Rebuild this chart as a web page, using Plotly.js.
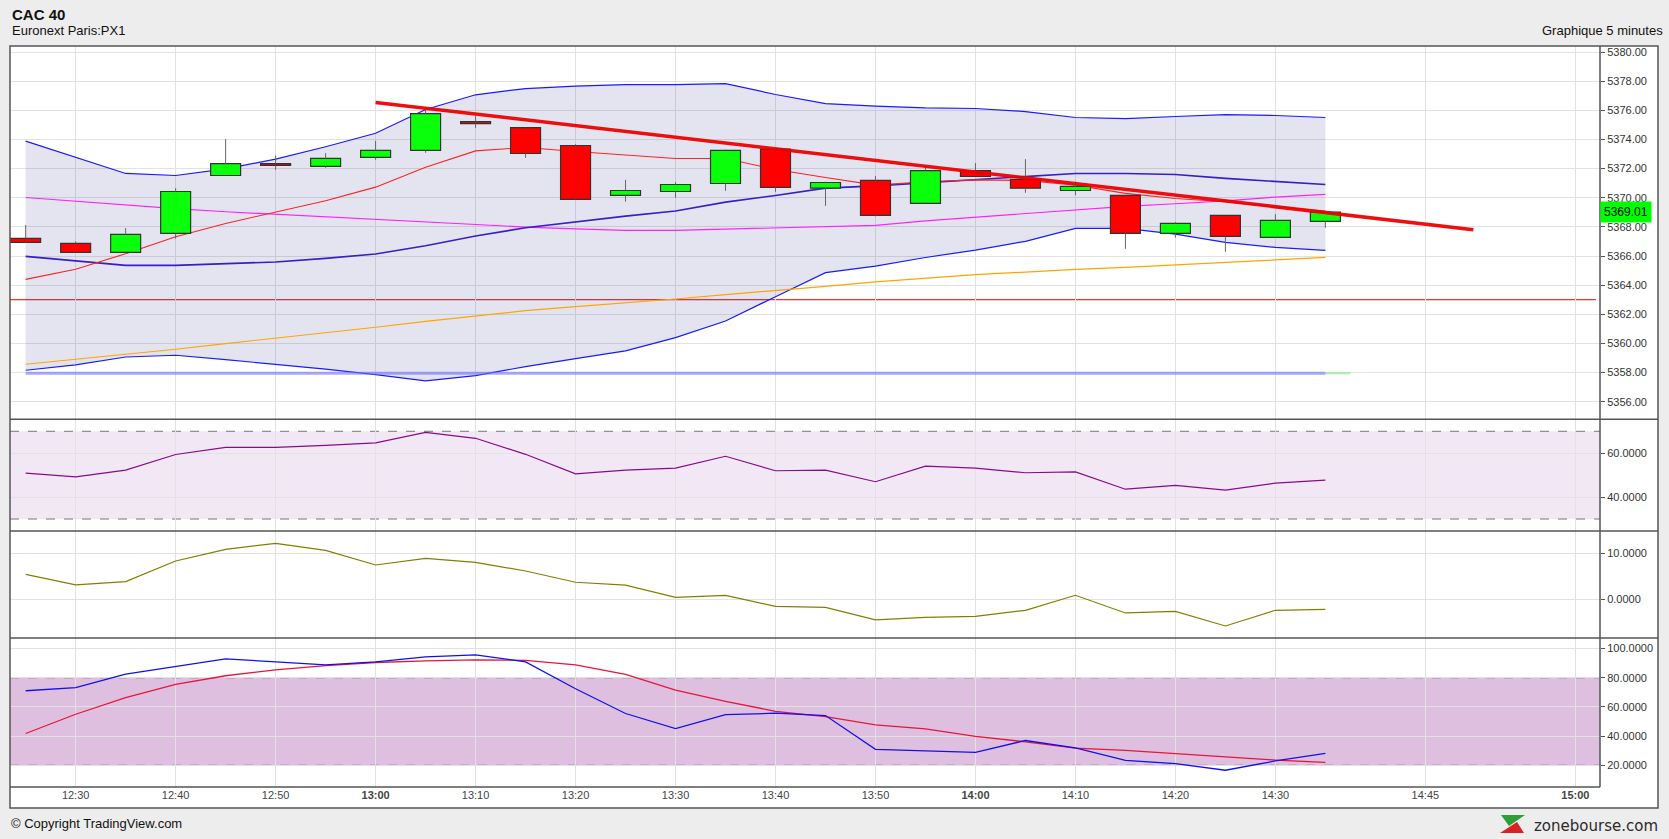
<!DOCTYPE html>
<html>
<head>
<meta charset="utf-8">
<script src="https://cdn.plot.ly/plotly-3.0.1.min.js"></script>
<style>
  html, body { margin: 0; padding: 0; background: #ededed; }
  #chart { width: 1669px; height: 839px; }
</style>
</head>
<body>
<div id="chart"></div>
<script>
// ---------------- DATA ----------------
const times = ['12:25','12:30','12:35','12:40','12:45','12:50','12:55','13:00','13:05','13:10',
  '13:15','13:20','13:25','13:30','13:35','13:40','13:45','13:50','13:55','14:00',
  '14:05','14:10','14:15','14:20','14:25','14:30','14:35'];

const open  = [5367.21,5366.87,5366.25,5367.55,5371.53,5372.35,5372.15,5372.77,5373.25,5375.23,
  5374.82,5373.59,5370.16,5370.43,5370.98,5373.34,5370.66,5371.19,5369.61,5371.87,
  5371.26,5370.50,5370.16,5367.55,5368.79,5367.28,5368.38];
const high  = [5368.13,5367.00,5367.92,5370.66,5374.02,5372.90,5373.06,5373.91,5376.06,5375.60,
  5374.85,5373.68,5371.23,5371.07,5373.30,5373.40,5371.10,5371.49,5372.19,5372.38,
  5372.65,5371.10,5370.20,5368.33,5368.80,5368.88,5369.05];
const low   = [5366.90,5366.22,5366.22,5367.19,5371.50,5371.92,5372.06,5372.61,5373.09,5374.80,
  5372.74,5369.87,5369.73,5370.00,5370.48,5370.41,5369.45,5368.72,5369.60,5371.45,
  5370.34,5370.18,5366.50,5367.26,5366.30,5367.25,5367.94];
const close = [5366.94,5366.25,5367.49,5370.43,5372.35,5372.22,5372.70,5373.25,5375.78,5375.09,
  5373.04,5369.89,5370.50,5370.91,5373.25,5370.71,5371.05,5368.79,5371.87,5371.46,
  5370.66,5370.78,5367.55,5368.24,5367.35,5368.45,5369.01];

const bbUpper = [5373.89,5372.77,5371.67,5371.53,5371.99,5372.65,5373.50,5374.43,5376.06,5377.07,
  5377.50,5377.66,5377.77,5377.77,5377.84,5377.09,5376.47,5376.29,5376.17,5376.13,
  5375.92,5375.51,5375.44,5375.58,5375.71,5375.65,5375.51];
const bbLower = [5358.16,5358.53,5359.07,5359.19,5358.89,5358.57,5358.23,5357.86,5357.43,5357.79,
  5358.41,5358.96,5359.49,5360.40,5361.54,5363.21,5364.86,5365.31,5365.90,5366.41,
  5367.01,5367.90,5367.90,5367.51,5366.94,5366.59,5366.39];
const bbMiddle = [5365.98,5365.66,5365.36,5365.36,5365.45,5365.59,5365.84,5366.14,5366.71,5367.38,
  5367.94,5368.35,5368.74,5369.09,5369.70,5370.16,5370.66,5370.82,5371.03,5371.28,
  5371.49,5371.67,5371.67,5371.60,5371.33,5371.12,5370.91];
const maShort = [5364.40,5365.09,5366.16,5367.33,5368.24,5369.00,5369.79,5370.73,5372.10,5373.22,
  5373.45,5373.18,5372.93,5372.70,5372.70,5371.94,5371.39,5370.87,5371.10,5371.23,
  5371.19,5370.87,5370.30,5369.95,5369.73,5369.38,5369.09];
const maMedium = [5370.02,5369.75,5369.47,5369.25,5369.04,5368.86,5368.70,5368.51,5368.35,5368.17,
  5367.99,5367.87,5367.76,5367.76,5367.85,5367.90,5368.01,5368.10,5368.42,5368.67,
  5368.95,5369.20,5369.41,5369.59,5369.79,5370.05,5370.23];
const maLong = [5358.57,5358.91,5359.26,5359.60,5359.99,5360.35,5360.74,5361.11,5361.52,5361.89,
  5362.25,5362.53,5362.78,5363.05,5363.35,5363.62,5363.92,5364.22,5364.49,5364.72,
  5364.90,5365.09,5365.22,5365.38,5365.54,5365.70,5365.91];

const rsi = [50.9,49.2,52.3,59.4,62.7,62.7,63.6,64.7,69.5,66.8,
  59.5,50.6,52.3,53.2,58.6,52.0,52.3,47.0,54.1,53.2,
  51.1,51.5,43.6,45.3,43.2,46.4,47.7];
const macd = [5.43,3.12,3.84,8.33,10.87,12.17,10.65,7.46,8.91,8.04,
  6.16,3.70,3.08,0.43,0.87,-1.52,-1.74,-4.49,-3.91,-3.70,
  -2.39,0.87,-2.97,-2.61,-5.80,-2.39,-2.17];
const stochK = [71.1,73.2,82.5,87.7,93.0,90.9,88.9,90.9,94.3,95.7,
  90.9,72.5,55.5,45.2,54.8,55.7,54.1,30.9,30.0,28.9,
  37.0,32.0,23.4,21.1,16.6,23.0,28.2];
const stochD = [41.8,55.0,66.4,75.5,81.4,85.5,88.4,90.5,91.6,92.3,
  92.0,88.9,82.3,71.5,63.9,57.0,53.4,47.7,45.0,39.8,
  36.1,31.8,30.2,28.0,25.9,23.6,22.0];

const trendTimes = ['13:00', '14:49:48'];
const trendValues = [5376.54, 5367.81];
const hLevel = 5363.0;
const flatTimes = ['12:25', '14:35'];
const flatExtTimes = ['14:35', '14:37:30'];
const flatLevel = 5357.95;
const lastPrice = 5369.01;

const xTickTimes = ['12:30','12:40','12:50','13:00','13:10','13:20','13:30','13:40','13:50','14:00','14:10','14:20','14:30','14:45','15:00'];
const xTickLabels = ['12:30','12:40','12:50','<b>13:00</b>','13:10','13:20','13:30','13:40','13:50','<b>14:00</b>','14:10','14:20','14:30','14:45','<b>15:00</b>'];
const mainTicks = [5356,5358,5360,5362,5364,5366,5368,5370,5372,5374,5376,5378,5380];
const rsiTicks = [40, 60];
const macdTicks = [0, 10];
const stochTicks = [20, 40, 60, 80, 100];
const rsiBand = [30, 70];
const stochBand = [20, 80];

// ---------------- BUILD ----------------
const day = '2024-01-15 ';
const X = times.map(t => day + t);
const D = t => day + t;

const wx = [], wy = [];
const bodyBase = [], bodyH = [], bodyCol = [];
for (let i = 0; i < X.length; i++) {
  const top = Math.max(open[i], close[i]);
  const bot = Math.min(open[i], close[i]);
  if (high[i] > top) { wx.push(X[i], X[i], null); wy.push(high[i], top, null); }
  if (low[i] < bot) { wx.push(X[i], X[i], null); wy.push(bot, low[i], null); }
  bodyBase.push(bot);
  bodyH.push(Math.max(top - bot, 0.03));
  bodyCol.push(close[i] >= open[i] ? '#0aff0a' : '#ff0000');
}

const FONT = 'Liberation Sans, Arial, sans-serif';
const mainRange = [5354.79, 5380.42];

const line = (y, color, width, yaxis) => ({
  type: 'scatter', mode: 'lines', x: X, y: y, xaxis: 'x', yaxis: yaxis || 'y',
  line: { color: color, width: width || 1 }, hoverinfo: 'skip'
});

const traces = [
  line(bbLower, '#1a1aff', 1.2),
  Object.assign(line(bbUpper, '#1a1aff', 1.2), { fill: 'tonexty', fillcolor: 'rgba(30,30,140,0.12)' }),
  line(maLong, '#ffa500', 1.2),
  line(maMedium, '#ff22ff', 1.2),
  line(bbMiddle, '#3a1cc8', 1.6),
  line(maShort, '#ff2222', 1.1),
  { type: 'scatter', mode: 'lines', x: flatTimes.map(D), y: flatTimes.map(() => flatLevel),
    line: { color: 'rgba(110,110,255,0.6)', width: 3 }, hoverinfo: 'skip' },
  { type: 'scatter', mode: 'lines', x: flatExtTimes.map(D), y: flatExtTimes.map(() => flatLevel),
    line: { color: 'rgba(140,230,140,0.7)', width: 2 }, hoverinfo: 'skip' },
  line(rsi, '#8a0a8a', 1.2, 'y2'),
  line(macd, '#808000', 1.2, 'y3'),
  line(stochD, '#e8143c', 1.3, 'y4'),
  line(stochK, '#1010ee', 1.3, 'y4'),
  // candles on overlay axis (drawn above indicator lines)
  { type: 'scatter', mode: 'lines', x: wx, y: wy, xaxis: 'x', yaxis: 'y5',
    line: { color: '#666666', width: 1 }, hoverinfo: 'skip', connectgaps: false },
  { type: 'bar', x: X, y: bodyH, base: bodyBase, width: 180000, xaxis: 'x', yaxis: 'y5',
    marker: { color: bodyCol, line: { color: '#333333', width: 1.2 } }, hoverinfo: 'skip' },
  { type: 'scatter', mode: 'lines', x: trendTimes.map(D), y: trendValues, xaxis: 'x', yaxis: 'y5',
    line: { color: 'rgba(238,0,0,0.95)', width: 3.5 }, hoverinfo: 'skip' }
];

// pixel -> paper helpers (plot area: x 10..1600, y 46..787)
const px = X0 => (X0 - 10) / 1590;
const py = Y0 => (787 - Y0) / 741;

const yCommon = {
  side: 'right', anchor: 'x', showgrid: true, gridcolor: '#e2e2e2', gridwidth: 1,
  zeroline: false, ticks: 'outside', ticklen: 4, tickcolor: '#555', tickwidth: 1,
  tickfont: { family: FONT, size: 11, color: '#333' }, showline: false, fixedrange: true
};

const shapes = [
  { type: 'rect', xref: 'paper', yref: 'paper', x0: 0, x1: px(1658), y0: py(808), y1: 1,
    fillcolor: '#ffffff', line: { width: 0 }, layer: 'below' },
  { type: 'rect', xref: 'paper', yref: 'y2', x0: 0, x1: 1, y0: rsiBand[0], y1: rsiBand[1],
    fillcolor: 'rgba(150,60,170,0.12)', line: { width: 0 }, layer: 'between' },
  { type: 'rect', xref: 'paper', yref: 'y4', x0: 0, x1: 1, y0: stochBand[0], y1: stochBand[1],
    fillcolor: 'rgba(181,107,181,0.43)', line: { width: 0 }, layer: 'between' },
  { type: 'line', xref: 'paper', yref: 'y2', x0: 0, x1: 1, y0: rsiBand[1], y1: rsiBand[1],
    line: { color: '#777', width: 1, dash: 'dash' }, layer: 'between' },
  { type: 'line', xref: 'paper', yref: 'y2', x0: 0, x1: 1, y0: rsiBand[0], y1: rsiBand[0],
    line: { color: '#777', width: 1, dash: 'dash' }, layer: 'between' },
  { type: 'line', xref: 'paper', yref: 'y4', x0: 0, x1: 1, y0: stochBand[1], y1: stochBand[1],
    line: { color: '#777', width: 1, dash: 'dash' }, layer: 'between' },
  { type: 'line', xref: 'paper', yref: 'y4', x0: 0, x1: 1, y0: stochBand[0], y1: stochBand[0],
    line: { color: '#777', width: 1, dash: 'dash' }, layer: 'between' },
  { type: 'line', xref: 'paper', yref: 'y', x0: 0, x1: px(1596), y0: hLevel, y1: hLevel,
    line: { color: '#e00000', width: 1 }, layer: 'between' },
  // borders
  { type: 'rect', xref: 'paper', yref: 'paper', x0: 0, x1: px(1658), y0: py(808), y1: 1,
    line: { color: '#555', width: 1.5 }, fillcolor: 'rgba(0,0,0,0)', layer: 'above' },
  { type: 'line', xref: 'paper', yref: 'paper', x0: 0, x1: px(1658), y0: py(419.3), y1: py(419.3),
    line: { color: '#555', width: 1.5 }, layer: 'above' },
  { type: 'line', xref: 'paper', yref: 'paper', x0: 0, x1: px(1658), y0: py(531), y1: py(531),
    line: { color: '#555', width: 1.5 }, layer: 'above' },
  { type: 'line', xref: 'paper', yref: 'paper', x0: 0, x1: px(1658), y0: py(638), y1: py(638),
    line: { color: '#555', width: 1.5 }, layer: 'above' },
  { type: 'line', xref: 'paper', yref: 'paper', x0: 0, x1: 1, y0: 0, y1: 0,
    line: { color: '#555', width: 1.5 }, layer: 'above' },
  { type: 'line', xref: 'paper', yref: 'paper', x0: 1, x1: 1, y0: 0, y1: 1,
    line: { color: '#555', width: 1.5 }, layer: 'above' },
  // zonebourse logo mark
  { type: 'path', xref: 'paper', yref: 'paper',
    path: `M ${px(1501)} ${py(815)} L ${px(1525)} ${py(815)} L ${px(1509)} ${py(826)} Z`,
    fillcolor: '#2e9e36', line: { width: 0 }, layer: 'above' },
  { type: 'path', xref: 'paper', yref: 'paper',
    path: `M ${px(1500)} ${py(833)} L ${px(1524)} ${py(833)} L ${px(1517)} ${py(822)} Z`,
    fillcolor: '#d62222', line: { width: 0 }, layer: 'above' }
];

const annotations = [
  { xref: 'paper', yref: 'paper', x: px(10), y: py(15), xanchor: 'left', yanchor: 'middle',
    text: '<b>CAC 40</b>', showarrow: false, font: { family: FONT, size: 15, color: '#111' } },
  { xref: 'paper', yref: 'paper', x: px(10), y: py(31), xanchor: 'left', yanchor: 'middle',
    text: 'Euronext Paris:PX1', showarrow: false, font: { family: FONT, size: 13, color: '#111' } },
  { xref: 'paper', yref: 'paper', x: px(1665), y: py(31), xanchor: 'right', yanchor: 'middle',
    text: 'Graphique 5 minutes', showarrow: false, font: { family: FONT, size: 13, color: '#111' } },
  { xref: 'paper', yref: 'paper', x: px(9), y: py(824), xanchor: 'left', yanchor: 'middle',
    text: '© Copyright TradingView.com', showarrow: false, font: { family: FONT, size: 13, color: '#111' } },
  { xref: 'paper', yref: 'paper', x: px(1660), y: py(826), xanchor: 'right', yanchor: 'middle',
    text: 'zonebourse.com', showarrow: false, font: { family: 'DejaVu Sans', size: 15, color: '#2a2a2a' } },
  { xref: 'paper', yref: 'y', x: 1, y: lastPrice, xanchor: 'left', yanchor: 'middle',
    text: '5369.01', showarrow: false, bgcolor: '#00ff00', borderpad: 3,
    font: { family: FONT, size: 12, color: '#000' } }
];

const layout = {
  width: 1669, height: 839, autosize: false,
  margin: { l: 10, r: 69, t: 46, b: 52, pad: 0 },
  paper_bgcolor: '#ededed', plot_bgcolor: '#ffffff',
  showlegend: false, hovermode: false, bargap: 0,
  font: { family: FONT, size: 11, color: '#333' },
  xaxis: {
    type: 'date', anchor: 'y4', range: [day + '12:23:26', day + '15:02:28'],
    tickvals: xTickTimes.map(D), ticktext: xTickLabels, tickmode: 'array',
    showgrid: true, gridcolor: '#e2e2e2', gridwidth: 1, zeroline: false, ticks: '',
    tickfont: { family: FONT, size: 11, color: '#444' }, showline: false, fixedrange: true
  },
  yaxis: Object.assign({}, yCommon, { domain: [0.4962, 1], range: mainRange,
    tickmode: 'array', tickvals: mainTicks, tickformat: '.2f' }),
  yaxis2: Object.assign({}, yCommon, { domain: [0.3455, 0.4962], range: [24.55, 75.45],
    tickmode: 'array', tickvals: rsiTicks, tickformat: '.4f' }),
  yaxis3: Object.assign({}, yCommon, { domain: [0.2011, 0.3455], range: [-8.41, 14.85],
    tickmode: 'array', tickvals: macdTicks, tickformat: '.4f' }),
  yaxis4: Object.assign({}, yCommon, { domain: [0, 0.2011], range: [5.1, 107.3],
    tickmode: 'array', tickvals: stochTicks, tickformat: '.4f' }),
  yaxis5: { overlaying: 'y', anchor: 'x', side: 'right', range: mainRange, visible: false,
    showgrid: false, zeroline: false, fixedrange: true },
  shapes: shapes,
  annotations: annotations
};

Plotly.newPlot('chart', traces, layout, { staticPlot: true, displayModeBar: false });
</script>
</body>
</html>
